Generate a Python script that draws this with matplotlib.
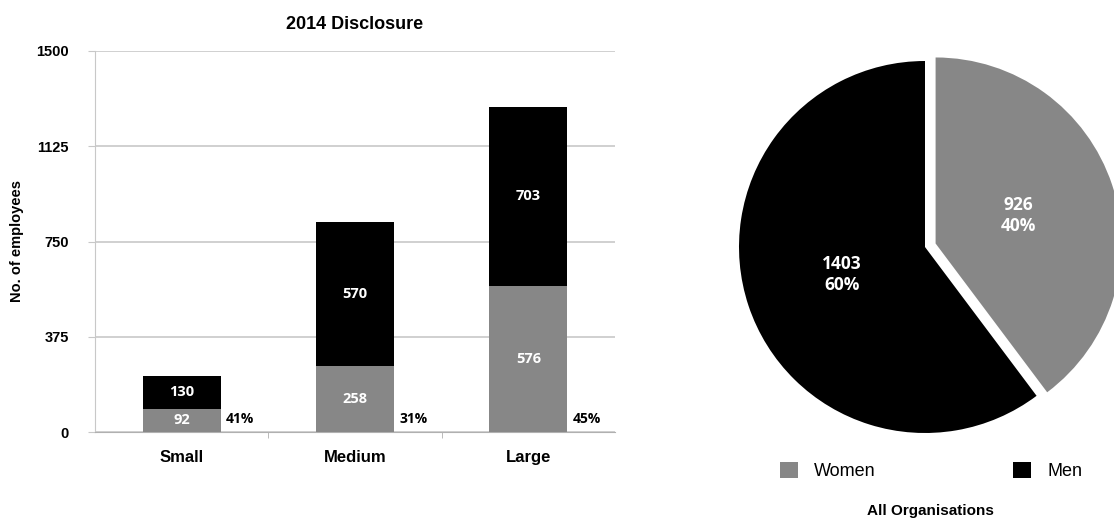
import matplotlib
matplotlib.use("Agg")
import matplotlib.pyplot as plt
from matplotlib.patches import Patch
import numpy as np

plt.rcParams['font.family'] = ['Liberation Sans', 'DejaVu Sans']

# data
categories = ['Small', 'Medium', 'Large']
women = [92, 258, 576]
men = [130, 570, 703]
women_share = ['41%', '31%', '45%']
y_ticks = [0, 375, 750, 1125, 1500]

pie_labels = ['Women', 'Men']
pie_values = [926, 1403]

GRAY = '#878787'
BLACK = '#000000'

fig = plt.figure(figsize=(11.14, 5.21), dpi=100)

# Step 1: stacked bars
ax = fig.add_axes([95 / 1114, 1 - 432 / 521, 520 / 1114, 381 / 521])
x = np.arange(len(categories))
b1 = ax.bar(x, women, width=0.45, color=GRAY, zorder=3)
b2 = ax.bar(x, men, width=0.45, bottom=women, color=BLACK, zorder=3)
ax.bar_label(b1, label_type='center', color='white', fontsize=10.5,
             fontweight='bold', family='Open Sans')
ax.bar_label(b2, label_type='center', color='white', fontsize=10.5,
             fontweight='bold', family='Open Sans')
for i, s in enumerate(women_share):
    ax.text(i + 0.255, 52, s, ha='left', va='center', fontsize=10,
            fontweight='bold', family='Open Sans')

ax.set_xlim(-0.5, 2.5)
ax.set_ylim(0, 1500)
ax.set_yticks(y_ticks)
ax.set_xticks(x)
ax.set_xticklabels(categories, fontweight='bold', fontsize=12)
ax.set_xticks([0.5, 1.5], minor=True)
ax.tick_params(axis='x', which='major', length=0, pad=13)
ax.tick_params(axis='x', which='minor', length=4, color='#b0b0b0')
ax.tick_params(axis='y', length=5, color='#c8c8c8', pad=14)
for lab in ax.get_yticklabels():
    lab.set_fontweight('bold')
    lab.set_fontsize(10.5)
ax.yaxis.grid(True, color='#c8c8c8', lw=1.2, zorder=0)
for sp in ['top', 'right']:
    ax.spines[sp].set_visible(False)
ax.spines['left'].set_color('#c8c8c8')
ax.spines['bottom'].set_color('#b0b0b0')
ax.set_ylabel('No. of employees', fontweight='bold', fontsize=10.5)
ax.yaxis.set_label_coords(-0.137, 0.5)
ax.set_title('2014 Disclosure', fontweight='bold', fontsize=13, pad=16)

# Step 2: pie
R = 186
ax2 = fig.add_axes([(925 - R) / 1114, (521 - 247 - R) / 521, 2 * R / 1114, 2 * R / 521])
total = sum(pie_values)

wedges = ax2.pie(pie_values, colors=[GRAY, BLACK], startangle=90,
                 counterclock=False, explode=[0.06, 0], radius=1,
                 wedgeprops=dict(linewidth=0))[0]
for w, v in zip(wedges, pie_values):
    ang = np.deg2rad((w.theta1 + w.theta2) / 2)
    cx, cy = w.center
    d = 0.47
    ax2.text(cx + d * np.cos(ang), cy + d * np.sin(ang),
             f'{v}\n{v / total * 100:.0f}%', ha='center', va='center',
             color='white', fontsize=12.5, fontweight='bold', family='Open Sans',
             linespacing=1.2)
ax2.set_xlim(-1, 1)
ax2.set_ylim(-1, 1)
ax2.set_aspect('auto')
for w in wedges:
    w.set_clip_on(False)

handles = [Patch(facecolor=GRAY), Patch(facecolor=BLACK)]
fig.legend(handles, pie_labels, loc='center', bbox_to_anchor=(931 / 1114, 1 - 471 / 521),
           ncol=2, frameon=False, fontsize=13, handlelength=1.0, handleheight=1.0,
           handletextpad=0.9, columnspacing=7.6)
fig.text(930 / 1114, 1 - 511 / 521, 'All Organisations', ha='center', va='center',
         fontweight='bold', fontsize=11)

fig.savefig('out.png', dpi=100)
